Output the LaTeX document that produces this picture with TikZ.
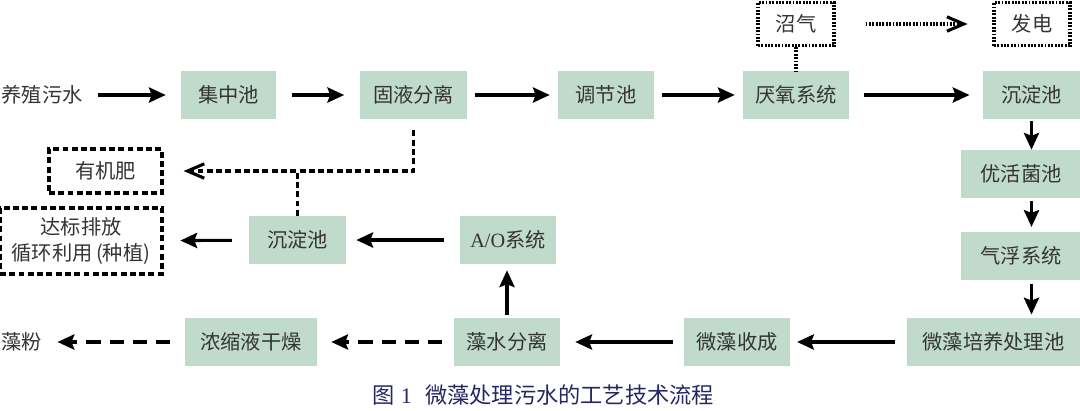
\documentclass[tikz,border=0pt]{standalone}
\usepackage{fontspec}
\setmainfont{Liberation Serif}
\newfontfamily\cjk{Noto Sans CJK SC}
\newfontfamily\latin{Liberation Serif}
\usetikzlibrary{arrows.meta}

\definecolor{poolgreen}{RGB}{192,219,203}
\definecolor{labelgray}{RGB}{52,52,52}
\definecolor{capblue}{RGB}{38,40,98}

\begin{document}
\begin{tikzpicture}[x=0.025cm, y=-0.025cm,
        pool/.style={fill=poolgreen, text=labelgray, minimum height=1.2cm, inner sep=0pt,
                font=\cjk\fontsize{14.4}{18.5}\selectfont},
        word/.style={text=labelgray, inner sep=0pt, font=\cjk\fontsize{14.4}{18.5}\selectfont},
        outbox/.style={word, draw=black, line width=2.2pt, dash pattern=on 4.2pt off 2.4pt, align=center},
        gasbox/.style={word, draw=black, line width=2.2pt, dash pattern=on 1.3pt off 1.1pt},
        flow/.style={line width=2.2pt, -{Stealth[length=0.42cm,width=0.38cm,inset=0.07cm]},
                shorten <=0.375cm, shorten >=0.375cm},
        dashflow/.style={flow, dash pattern=on 10pt off 6.4pt},
        dashline/.style={line width=2.2pt, dash pattern=on 4.2pt off 2.4pt},
        dotline/.style={line width=2.2pt, dash pattern=on 1.3pt off 1.1pt},
        barb/.style={-{Straight Barb[length=0.42cm,width=0.36cm]}}]
        \useasboundingbox (0,0) rectangle (1080,410);

        % top row
        \node[word] (src) at (42,95) {养殖污水};
        \node[pool, minimum width=2.375cm] (jzc) at (228.5,95) {集中池};
        \node[pool, minimum width=2.65cm] (gyfl) at (413.5,95) {固液分离};
        \node[pool, minimum width=2.4cm] (tjc) at (606,95) {调节池};
        \node[pool, minimum width=2.65cm] (yyxt) at (796,95) {厌氧系统};
        \node[pool, minimum width=2.425cm] (cdc1) at (1031.5,95) {沉淀池};
        \node[gasbox, minimum width=1.9cm, minimum height=1.075cm] (zq) at (796,24) {沼气};
        \node[gasbox, minimum width=1.9cm, minimum height=1.075cm] (fd) at (1032,24) {发电};

        % right column
        \node[pool, minimum width=3cm] (yhjc) at (1021,174) {优活菌池};
        \node[pool, minimum width=3cm] (qfxt) at (1021,256) {气浮系统};
        \node[pool, minimum width=4.325cm] (pycl) at (993.5,342) {微藻培养处理池};

        % bottom rows
        \node[pool, minimum width=2.65cm] (zsc) at (737,342) {微藻收成};
        \node[pool, minimum width=2.65cm] (zsfl) at (507,342) {藻水分离};
        \node[pool, minimum width=3.3cm] (nsgz) at (251,342) {浓缩液干燥};
        \node[word] (zf) at (22,342) {藻粉};
        \node[pool, minimum width=2.4cm] (ao) at (508,240) {{\latin A/O}系统};
        \node[pool, minimum width=2.425cm] (cdc2) at (297.5,240) {沉淀池};
        \node[outbox, minimum width=4.05cm, minimum height=1.65cm] (dbpf) at (81,241)
                {达标排放\\循环利用\,(种植)};
        \node[outbox, minimum width=2.825cm, minimum height=1.1cm] (yjf) at (105.5,171) {有机肥};

        \node[text=capblue, inner sep=0pt, font=\cjk\fontsize{15.8}{18}\selectfont] (cap) at (543.5,395)
                {图\hspace{0.25em}{\latin 1}\hspace{0.6em}微藻处理污水的工艺技术流程};

        % main flow
        \draw[flow] (src) -- (jzc);
        \draw[flow, shorten >=0.4cm, shorten <=0.4cm] (jzc) -- (gyfl);
        \draw[flow, shorten <=0.2cm, shorten >=0.2cm] (gyfl) -- (tjc);
        \draw[flow, shorten <=0.18cm, shorten >=0.2cm] (tjc) -- (yyxt);
        \draw[flow, shorten >=0.33cm] (yyxt) -- (cdc1);
        \draw[flow, shorten <=0.05cm, shorten >=0cm] (cdc1.south) -- (cdc1.south |- yhjc.north);
        \draw[flow, shorten <=0.08cm, shorten >=0.12cm] (cdc1.south |- yhjc.south) -- (cdc1.south |- qfxt.north);
        \draw[flow, shorten <=0.1cm, shorten >=0.08cm] (cdc1.south |- qfxt.south) -- (cdc1.south |- pycl.north);
        \draw[flow, shorten <=0.3cm, shorten >=0.17cm] (pycl) -- (zsc);
        \draw[flow, shorten <=0.28cm] (zsc) -- (zsfl);
        \draw[flow, shorten <=0.08cm, shorten >=0.15cm] (zsfl.north) -- (zsfl.north |- ao.south);
        \draw[flow, shorten <=0.4cm, shorten >=0.25cm] (ao) -- (cdc2);
        \draw[flow, shorten <=0.42cm, shorten >=0.42cm] (cdc2) -- (dbpf);
        \draw[dashflow, shorten <=0.3cm, shorten >=0.35cm] (zsfl) -- (nsgz);
        \draw[dashflow] (nsgz) -- (zf);

        % by-products
        \draw[dashline, barb, shorten <=0.28cm, shorten >=0.5cm] (gyfl.south) -- (gyfl.south |- yjf.east) -- (yjf.east);
        \draw[dashline] (cdc2.north) -- (cdc2.north |- yjf.east);
        \draw[dotline] (zq.south) -- (yyxt.north);
        \draw[dotline, barb, shorten <=0.75cm, shorten >=0.62cm] (zq) -- (fd);
\end{tikzpicture}
\end{document}
